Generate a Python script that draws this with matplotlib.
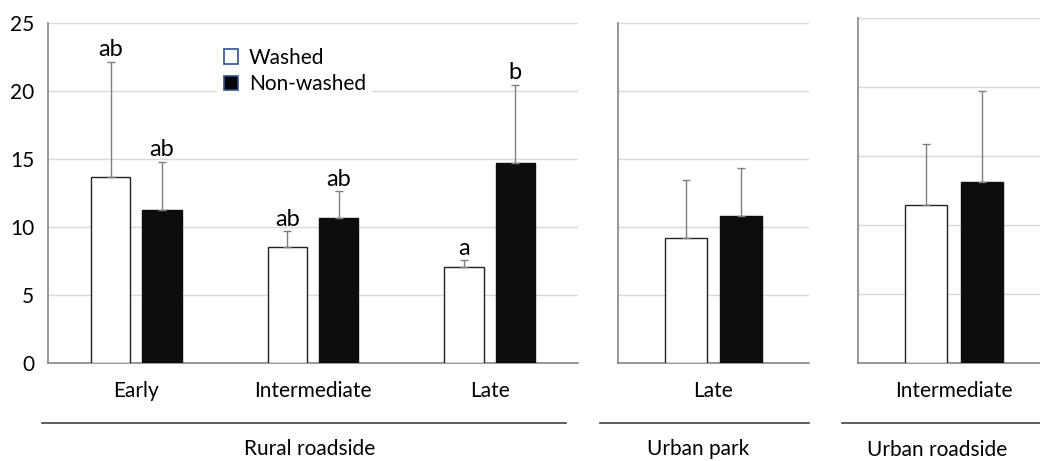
import matplotlib.pyplot as plt
from matplotlib.patches import Patch
from matplotlib.lines import Line2D

plt.rcParams['font.family'] = ['Lato', 'DejaVu Sans']

# Rural roadside
rural_cats = ['Early', 'Intermediate', 'Late']
rural_washed = [13.7, 8.5, 7.1]
rural_washed_err = [8.45, 1.2, 0.45]
rural_non = [11.25, 10.65, 14.7]
rural_non_err = [3.55, 2.0, 5.75]
rural_letters_w = ['ab', 'ab', 'a']
rural_letters_n = ['ab', 'ab', 'b']

# Urban park
park_cats = ['Late']
park_washed = [9.2]
park_washed_err = [4.25]
park_non = [10.8]
park_non_err = [3.55]

# Urban roadside
road_cats = ['Intermediate']
road_washed = [11.45]
road_washed_err = [4.4]
road_non = [13.15]
road_non_err = [6.55]

group_names = ['Rural roadside', 'Urban park', 'Urban roadside']

fig = plt.figure(figsize=(10.4, 4.61), dpi=100)
ax1 = fig.add_axes([0.0462, 0.2119, 0.5096, 0.7389])
ax2 = fig.add_axes([0.5942, 0.2119, 0.1837, 0.7389])
ax3 = fig.add_axes([0.8250, 0.2126, 0.1846, 0.7477])

w = 0.222
off = 0.145
err_kw = dict(ecolor='#7f7f7f', elinewidth=1, capsize=3, capthick=1)


def draw_panel(ax, cats, wv, we, nv, ne, ylabels):
    x = list(range(len(cats)))
    xw = [i - off for i in x]
    xn = [i + off for i in x]
    ax.bar(xw, wv, w, color='white', edgecolor='#222222', linewidth=1, zorder=3,
           yerr=[[0] * len(wv), we], error_kw=err_kw)
    ax.bar(xn, nv, w, color='#0d0d0d', edgecolor='#0d0d0d', linewidth=1, zorder=3,
           yerr=[[0] * len(nv), ne], error_kw=err_kw)
    ax.set_xlim(-0.5, len(cats) - 0.5)
    ax.set_ylim(0, 25)
    ax.set_yticks([0, 5, 10, 15, 20, 25])
    ax.set_xticks(x)
    ax.set_xticklabels(cats, fontsize=15)
    ax.grid(axis='y', color='#d9d9d9', linewidth=1, zorder=0)
    ax.set_axisbelow(True)
    for s in ['top', 'right']:
        ax.spines[s].set_visible(False)
    for s in ['left', 'bottom']:
        ax.spines[s].set_color('#868686')
        ax.spines[s].set_linewidth(1.2)
    ax.tick_params(axis='both', length=0)
    ax.tick_params(axis='x', pad=13)
    ax.tick_params(axis='y', pad=10, labelsize=15)
    if not ylabels:
        ax.set_yticklabels([])
    return xw, xn


xw, xn = draw_panel(ax1, rural_cats, rural_washed, rural_washed_err,
                    rural_non, rural_non_err, True)
draw_panel(ax2, park_cats, park_washed, park_washed_err, park_non, park_non_err, False)
draw_panel(ax3, road_cats, road_washed, road_washed_err, road_non, road_non_err, False)

# significance letters
for i in range(len(rural_cats)):
    ax1.annotate(rural_letters_w[i], (xw[i], rural_washed[i] + rural_washed_err[i]),
                 xytext=(0, 1), textcoords='offset points', ha='center', va='bottom',
                 fontsize=17)
    ax1.annotate(rural_letters_n[i], (xn[i], rural_non[i] + rural_non_err[i]),
                 xytext=(0, 1), textcoords='offset points', ha='center', va='bottom',
                 fontsize=17)

handles = [Patch(facecolor='white', edgecolor='#2f528f', linewidth=1.2),
           Patch(facecolor='black', edgecolor='#2f528f', linewidth=1.2)]
ax1.legend(handles, ['Washed', 'Non-washed'], loc='upper left',
           bbox_to_anchor=(0.30, 0.975), fontsize=15, frameon=True,
           facecolor='white', edgecolor='none', framealpha=1,
           handlelength=0.7, handleheight=0.7, handletextpad=0.5,
           labelspacing=0.3, borderpad=0.3)

# group separators and names under each panel
spans = [(-0.011, 0.977, 0.494), (-0.094, 1.0, 0.419), (-0.083, 1.1, 0.41)]
for ax, (x0, x1, xc), name in zip([ax1, ax2, ax3], spans, group_names):
    ax.add_line(Line2D([x0, x1], [-0.174, -0.174], transform=ax.transAxes,
                       color='#404040', linewidth=1.2, clip_on=False))
    ax.text(xc, -0.252, name, transform=ax.transAxes, ha='center', va='center',
            fontsize=15)

fig.savefig('out.png', dpi=100)
